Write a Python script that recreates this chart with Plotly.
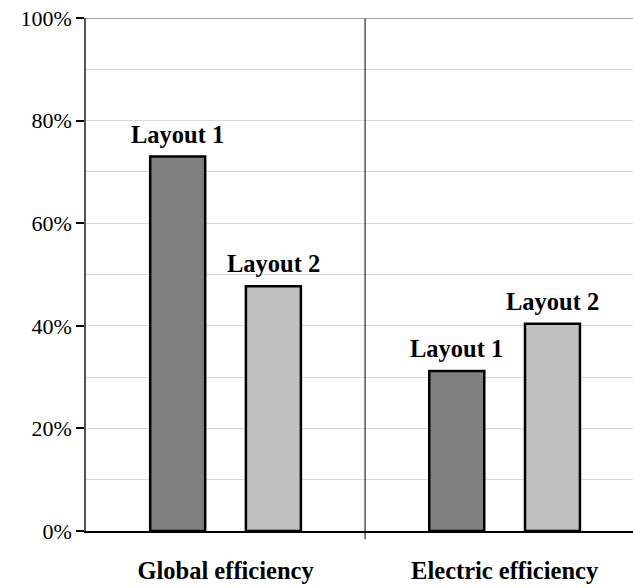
import plotly.graph_objects as go

categories = ["Global efficiency", "Electric efficiency"]
layout_names = ["Layout 1", "Layout 2"]
layout_1 = [73.0, 31.2]
layout_2 = [47.7, 40.4]
y_ticks = [0, 20, 40, 60, 80, 100]
y_tick_labels = ["0%", "20%", "40%", "60%", "80%", "100%"]

bar_colors = ["#808080", "#c0c0c0"]
bar_offsets = [-0.27, 0.073]
bar_width = 0.197
serif = "Liberation Serif, Times New Roman, serif"

fig = go.Figure()
for name, values, color, offset in zip(layout_names, [layout_1, layout_2], bar_colors, bar_offsets):
    fig.add_trace(go.Bar(
        x=categories, y=values, name=name,
        marker=dict(color=color, line=dict(color="black", width=2.5)),
        offset=offset, width=bar_width,
    ))
    # bar labels above each bar
    for i, v in enumerate(values):
        fig.add_annotation(x=i + offset + bar_width / 2, y=v, text="<b>%s</b>" % name,
                           showarrow=False, yanchor="bottom", yshift=7,
                           font=dict(family=serif, size=24.5, color="black"))

# separator between the two categories
fig.add_shape(type="line", xref="x", yref="paper", x0=0.5, x1=0.5, y0=-0.016, y1=1,
              line=dict(color="black", width=1))
# top border line
fig.add_shape(type="line", xref="paper", yref="y", x0=0, x1=1, y0=100, y1=100,
              line=dict(color="#808080", width=1.5))

fig.update_layout(
    width=633, height=588,
    margin=dict(l=86, r=0, t=18, b=57),
    paper_bgcolor="white", plot_bgcolor="white",
    barmode="overlay", showlegend=False,
    font=dict(family=serif, color="black"),
)
fig.update_xaxes(
    type="category", range=[-0.5, 1.46], automargin=False,
    showline=True, linecolor="black", linewidth=1.5,
    ticks="", showgrid=False,
    tickfont=dict(family=serif, size=24.5),
    ticklabelstandoff=17,
)
fig.update_xaxes(ticktext=["<b>%s</b>" % c for c in categories], tickvals=categories)
fig.update_yaxes(
    range=[0, 100], tickvals=y_ticks, ticktext=y_tick_labels, automargin=False,
    ticklabeloverflow="allow",
    showline=True, linecolor="#555555", linewidth=1.5,
    ticks="outside", ticklen=8, tickcolor="black", tickwidth=1.5,
    showgrid=True, gridcolor="#d9d9d9", gridwidth=1.2,
    minor=dict(dtick=10, showgrid=True, gridcolor="#d9d9d9", gridwidth=1.2),
    tickfont=dict(family=serif, size=22),
    zeroline=False,
)

# drop the default page margin so the figure fills the window
fig.write_html("out.html", config={"displayModeBar": False},
               post_script="document.body.style.margin = '0';")
